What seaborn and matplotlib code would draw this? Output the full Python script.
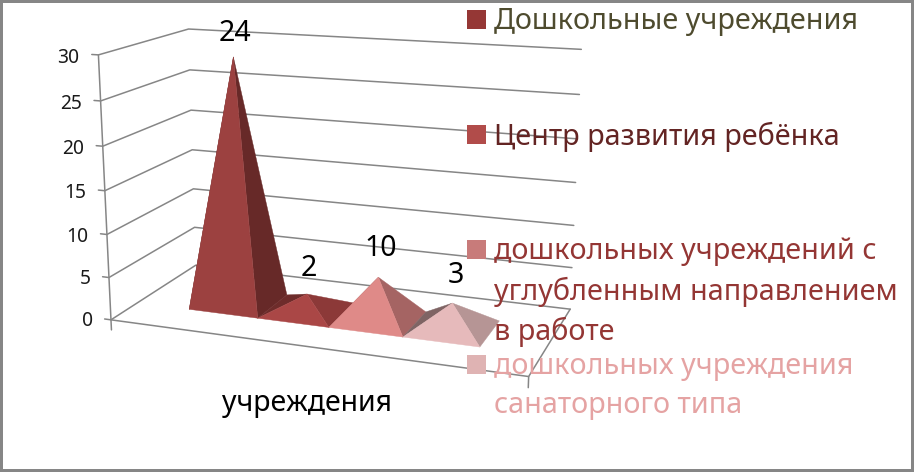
import seaborn as sns
import matplotlib
matplotlib.use("Agg")
import matplotlib.pyplot as plt
from matplotlib.patches import Rectangle
from mpl_toolkits.mplot3d.art3d import Poly3DCollection

# heights as drawn in the picture, labels as printed over them
heights = [28.8, 2, 5, 3]
value_labels = ["24", "2", "10", "3"]
z_ticks = [0, 5, 10, 15, 20, 25, 30]
x_title = "учреждения"
legend_labels = [
    "Дошкольные учреждения",
    "Центр развития ребёнка",
    "дошкольных учреждений с\nуглубленным направлением\nв работе",
    "дошкольных учреждения\nсанаторного типа",
]

front_colors = ["#9C4140", "#AA4746", "#DF8A88", "#E6BABB"]
right_colors = ["#672928", "#8C3938", "#A56463", "#B69595"]
left_colors = ["#672928", "#6E2C2B", "#A56463", "#7F6464"]
legend_colors = ["#953735", "#B14C4A", "#C87B7A", "#DFB3B3"]
text_colors = ["#4E4B2E", "#632423", "#943634", "#E5A3A3"]
legend_y = [20, 135, 250, 365]
label_lift = [2.6, 3.1, 3.4, 3.2]
grid_color = "#868686"

sns.set_theme(style="white")
plt.rcParams["font.family"] = ["Noto Sans", "DejaVu Sans"]

fig = plt.figure(figsize=(9.14, 4.72), dpi=100)
fig.patch.set_edgecolor(grid_color)
fig.patch.set_linewidth(3)

# camera fitted to the box of the original chart
side = 528
ax = fig.add_axes([71.6 / 914, 14.3 / 472, side / 914, side / 472], projection="3d")
ax.computed_zorder = False
ax.set_xlim(0, 1)
ax.set_ylim(0, 1)
ax.set_zlim(0, 30)
ax.view_init(14.525, -69.562, 0.099)
ax.set_proj_type("persp", focal_length=0.4731)
ax.set_box_aspect((1.5904, 0.7093, 1))
ax.set_axis_off()
ax.patch.set_alpha(0)

# walls and floor
for v in z_ticks:
    ax.plot([-0.017, 0, 0, 1], [0, 0, 1, 1], [v, v, v, v], color=grid_color, lw=1.1, zorder=1)
    ax.text(-0.05, 0, v - 0.5, str(v), ha="right", va="center", fontsize=13.8, color="#1A1A1A", zorder=10)
ax.plot([0, 0], [0, 0], [-1.2, 30], color=grid_color, lw=1.1, zorder=1)
ax.plot([1, 1], [0, 0], [-1.2, 0], color=grid_color, lw=1.1, zorder=1)
ax.plot([0, 1, 1], [0, 0, 1], [0, 0, 0], color=grid_color, lw=1.1, zorder=1)

# one pyramid per institution type, left to right
margin = 0.14
width = (1 - 2 * margin) / len(heights)
y0, y1 = 0.29, 0.69
for i, h in enumerate(heights):
    x0 = margin + i * width
    x1 = x0 + width
    top = (x0 + width / 2, (y0 + y1) / 2, h)
    faces = [
        [(x0, y1, 0), (x0, y0, 0), top],
        [(x1, y0, 0), (x1, y1, 0), top],
        [(x0, y0, 0), (x1, y0, 0), top],
    ]
    colors = [left_colors[i], right_colors[i], front_colors[i]]
    pyr = Poly3DCollection(faces, facecolors=colors, edgecolors=colors, linewidths=0.3, zorder=2 + i)
    ax.add_collection3d(pyr, autolim=False)
    ax.text(top[0] + 0.006, top[1], h + label_lift[i], value_labels[i], ha="center", va="center",
            fontsize=20.5, color="black", zorder=10)

fig.text(307 / 914, 1 - 404 / 472, x_title, ha="center", va="center", fontsize=20.5, color="black")

# legend entries sit at fixed slots and overlap each other, as in the original
for lab, key, col, y in zip(legend_labels, legend_colors, text_colors, legend_y):
    fig.add_artist(Rectangle((467 / 914, 1 - (y + 9) / 472), 19 / 914, 19 / 472,
                             transform=fig.transFigure, facecolor=key, edgecolor="none", zorder=4))
    fig.text(494 / 914, 1 - (y - 13) / 472, lab, ha="left", va="top", fontsize=20.7,
             color=col, linespacing=1.45, zorder=5)

fig.savefig("out.png", dpi=100)
